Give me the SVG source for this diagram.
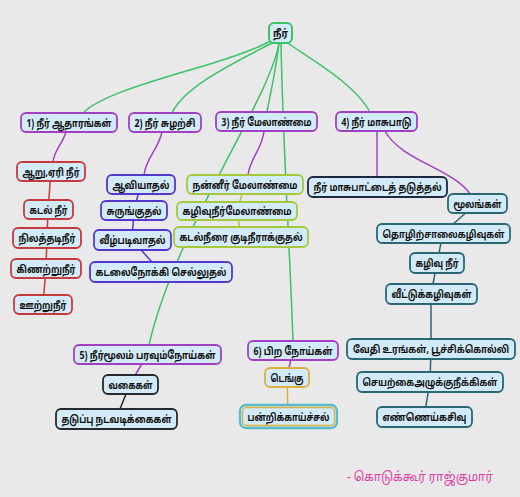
<svg xmlns="http://www.w3.org/2000/svg" width="520" height="497" viewBox="0 0 520 497">
<style>
.bg{fill:#e9e9e9}
rect{fill:#d3ebf8;stroke-width:1.8}
text{font-family:"Noto Sans Tamil","Noto Sans","Liberation Sans",sans-serif;font-size:11px;font-weight:bold;fill:#111;text-anchor:middle}
.sm{font-size:10px}
.green{stroke:#3cc267}
.purple{stroke:#a23fc3}
.red{stroke:#c63a3e}
.indigo{stroke:#5538c9}
.lime{stroke:#a6c93b}
.navy{stroke:#1c2740}
.teal{stroke:#2a6674}
.dark{stroke:#262a30}
.gold{stroke:#ddb040}
.cyan{stroke:#58bccb;stroke-width:2.4}
#edges path,#edges line{fill:none;stroke-width:1.5}
.sig{font-weight:normal;font-size:13px;fill:#de3ea4;text-anchor:start}
</style>
<rect class="bg" x="0" y="0" width="520" height="497" style="stroke:none"/>
<g id="edges">
<path class="green" d="M272,40 C230,65 110,85 83,113"/>
<path class="green" d="M274,42 C240,60 185,85 172,113"/>
<path class="green" d="M279,43 C276,70 270,95 267,112"/>
<path class="green" d="M286,42 C320,65 355,85 370,112"/>
<path class="green" d="M279,43 C270,100 175,230 149,345"/>
<path class="green" d="M281,43 C283,150 290,250 293,341"/>
<path class="purple" d="M66,132 C62,145 54,150 53,162"/>
<line class="red" x1="51" y1="171" x2="48" y2="210"/>
<line class="red" x1="48" y1="210" x2="47" y2="238"/>
<line class="red" x1="47" y1="238" x2="46" y2="268"/>
<line class="red" x1="46" y1="268" x2="43" y2="304"/>
<path class="purple" d="M162,132 C158,150 146,158 144,175"/>
<line class="indigo" x1="141" y1="184" x2="134" y2="210"/>
<line class="indigo" x1="134" y1="210" x2="132" y2="240"/>
<line class="indigo" x1="132" y1="240" x2="161" y2="272"/>
<path class="purple" d="M264,131 C262,150 250,158 248,175"/>
<line class="lime" x1="245" y1="184" x2="237" y2="211"/>
<line class="lime" x1="237" y1="211" x2="241" y2="237"/>
<line class="purple" x1="377" y1="131" x2="377" y2="177"/>
<path class="purple" d="M385,131 C400,160 455,170 470,194"/>
<line class="teal" x1="477" y1="203" x2="443" y2="233"/>
<line class="teal" x1="443" y1="233" x2="437" y2="263"/>
<line class="teal" x1="437" y1="263" x2="431" y2="294"/>
<line class="teal" x1="431" y1="294" x2="431" y2="349"/>
<line class="teal" x1="431" y1="349" x2="430" y2="382"/>
<line class="teal" x1="430" y1="382" x2="424" y2="417"/>
<line class="purple" x1="147" y1="355" x2="130" y2="384"/>
<line class="dark" x1="130" y1="384" x2="116" y2="419"/>
<line class="purple" x1="293" y1="350" x2="287" y2="377"/>
<line class="gold" x1="287" y1="377" x2="288" y2="416"/>
</g>
<g id="root"><rect class="green" x="269" y="23" width="23" height="20" rx="5" style="stroke-width:2"/><text x="280.5" y="37" textLength="15" lengthAdjust="spacingAndGlyphs">நீர்</text></g>
<g id="n1"><rect class="purple" x="21" y="113" width="96" height="19" rx="5"/><text x="69" y="126.5" textLength="85" lengthAdjust="spacingAndGlyphs">1) நீர் ஆதாரங்கள்</text></g>
<g id="n2"><rect class="purple" x="129" y="113" width="72" height="19" rx="5"/><text x="165" y="126.5" textLength="61" lengthAdjust="spacingAndGlyphs">2) நீர் சுழற்சி</text></g>
<g id="n3"><rect class="purple" x="216" y="112" width="101" height="19" rx="5"/><text x="266.5" y="125.5" textLength="90" lengthAdjust="spacingAndGlyphs">3) நீர் மேலாண்மை</text></g>
<g id="n4"><rect class="purple" x="336" y="112" width="81" height="19" rx="5"/><text x="376.5" y="125.5" textLength="70" lengthAdjust="spacingAndGlyphs">4) நீர் மாசுபாடு</text></g>
<g id="a1"><rect class="red" x="17" y="162" width="68" height="19" rx="5"/><text x="51" y="175.5" textLength="57" lengthAdjust="spacingAndGlyphs">ஆறு,ஏரி நீர்</text></g>
<g id="a2"><rect class="red" x="24" y="200" width="49" height="19" rx="5"/><text x="48.5" y="213.5" textLength="38" lengthAdjust="spacingAndGlyphs">கடல் நீர்</text></g>
<g id="a3"><rect class="red" x="13" y="228" width="68" height="20" rx="5"/><text x="47" y="242" textLength="57" lengthAdjust="spacingAndGlyphs">நிலத்தடிநீர்</text></g>
<g id="a4"><rect class="red" x="11" y="259" width="70" height="19" rx="5"/><text x="46" y="272.5" textLength="59" lengthAdjust="spacingAndGlyphs">கிணற்றுநீர்</text></g>
<g id="a5"><rect class="red" x="14" y="295" width="58" height="19" rx="5"/><text x="43" y="308.5" textLength="47" lengthAdjust="spacingAndGlyphs">ஊற்றுநீர்</text></g>
<g id="b1"><rect class="indigo" x="107" y="175" width="68" height="19" rx="5"/><text x="141" y="188.5" textLength="57" lengthAdjust="spacingAndGlyphs">ஆவியாதல்</text></g>
<g id="b2"><rect class="indigo" x="101" y="201" width="66" height="19" rx="5"/><text x="134" y="214.5" textLength="55" lengthAdjust="spacingAndGlyphs">சுருங்குதல்</text></g>
<g id="b3"><rect class="indigo" x="94" y="230" width="77" height="20" rx="5"/><text x="132.5" y="244" textLength="66" lengthAdjust="spacingAndGlyphs">வீழ்படிவாதல்</text></g>
<g id="b4"><rect class="indigo" x="90" y="262" width="142" height="20" rx="5"/><text x="161" y="276" textLength="131" lengthAdjust="spacingAndGlyphs">கடலைநோக்கி செல்லுதல்</text></g>
<g id="c1"><rect class="lime" x="187" y="175" width="116" height="19" rx="5"/><text x="245" y="188.5" textLength="105" lengthAdjust="spacingAndGlyphs">நன்னீர் மேலாண்மை</text></g>
<g id="c2"><rect class="lime" x="177" y="202" width="120" height="18" rx="5"/><text x="237" y="215" textLength="109" lengthAdjust="spacingAndGlyphs">கழிவுநீர்மேலாண்மை</text></g>
<g id="c3"><rect class="lime" x="174" y="227" width="134" height="20" rx="5"/><text x="241" y="241" textLength="123" lengthAdjust="spacingAndGlyphs">கடல்நீரை குடிநீராக்குதல்</text></g>
<g id="d1"><rect class="navy" x="308" y="177" width="139" height="20" rx="5"/><text x="377.5" y="191" textLength="128" lengthAdjust="spacingAndGlyphs">நீர் மாசுபாட்டைத் தடுத்தல்</text></g>
<g id="e1"><rect class="teal" x="448" y="194" width="59" height="19" rx="5"/><text x="477.5" y="207.5" textLength="48" lengthAdjust="spacingAndGlyphs">மூலங்கள்</text></g>
<g id="e2"><rect class="teal" x="377" y="224" width="133" height="19" rx="5"/><text class="sm" x="443.5" y="237.5" textLength="122" lengthAdjust="spacingAndGlyphs">தொழிற்சாலைகழிவுகள்</text></g>
<g id="e3"><rect class="teal" x="410" y="253" width="54" height="20" rx="5"/><text x="437" y="267" textLength="43" lengthAdjust="spacingAndGlyphs">கழிவு நீர்</text></g>
<g id="e4"><rect class="teal" x="386" y="284" width="91" height="20" rx="5"/><text x="431.5" y="298" textLength="80" lengthAdjust="spacingAndGlyphs">வீட்டுக்கழிவுகள்</text></g>
<g id="e5"><rect class="teal" x="347" y="339" width="168" height="20" rx="5"/><text class="sm" x="431" y="353" textLength="156" lengthAdjust="spacingAndGlyphs">வேதி உரங்கள், பூச்சிக்கொல்லி</text></g>
<g id="e6"><rect class="teal" x="357" y="372" width="146" height="20" rx="5"/><text class="sm" x="430" y="386" textLength="135" lengthAdjust="spacingAndGlyphs">செயற்கைஅழுக்குநீக்கிகள்</text></g>
<g id="e7"><rect class="teal" x="377" y="407" width="95" height="20" rx="5"/><text x="424.5" y="421" textLength="84" lengthAdjust="spacingAndGlyphs">எண்ணெய்கசிவு</text></g>
<g id="n5"><rect class="purple" x="74" y="345" width="147" height="19" rx="5"/><text x="147.5" y="358.5" textLength="136" lengthAdjust="spacingAndGlyphs">5) நீர்மூலம் பரவும்நோய்கள்</text></g>
<g id="f1"><rect class="dark" x="103" y="375" width="55" height="19" rx="5"/><text x="130.5" y="388.5" textLength="44" lengthAdjust="spacingAndGlyphs">வகைகள்</text></g>
<g id="f2"><rect class="dark" x="56" y="409" width="121" height="20" rx="5"/><text x="116.5" y="423" textLength="110" lengthAdjust="spacingAndGlyphs">தடுப்பு நடவடிக்கைகள்</text></g>
<g id="n6"><rect class="purple" x="248" y="341" width="90" height="19" rx="5"/><text x="293" y="354.5" textLength="79" lengthAdjust="spacingAndGlyphs">6) பிற நோய்கள்</text></g>
<g id="g1"><rect class="gold" x="265" y="368" width="44" height="19" rx="5"/><text x="287" y="381.5" textLength="33" lengthAdjust="spacingAndGlyphs">டெங்கு</text></g>
<g id="g2"><rect class="cyan" x="240" y="405" width="97" height="23" rx="6"/><rect class="gold" x="242.5" y="407.5" width="92" height="18" rx="4" style="stroke-width:1.4"/><text x="288.5" y="420.5" textLength="82" lengthAdjust="spacingAndGlyphs">பன்றிக்காய்ச்சல்</text></g>
<text class="sig" x="347" y="481" textLength="146" lengthAdjust="spacingAndGlyphs">- கொடுக்கூர் ராஜ்குமார்</text>
</svg>
